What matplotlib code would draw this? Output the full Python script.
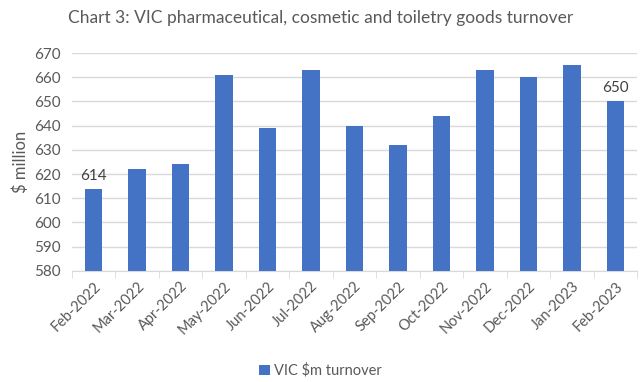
import numpy as np
import matplotlib.pyplot as plt

# Datos del gráfico
meses = ["Feb-2022", "Mar-2022", "Apr-2022", "May-2022", "Jun-2022", "Jul-2022",
         "Aug-2022", "Sep-2022", "Oct-2022", "Nov-2022", "Dec-2022", "Jan-2023", "Feb-2023"]
turnover = [614, 622, 624, 661, 639, 663, 640, 632, 644, 663, 660, 665, 650]

gris = "#595959"
plt.rcParams['font.family'] = ['Lato', 'DejaVu Sans']

fig = plt.figure(figsize=(6.41, 3.82), dpi=100)
ax = fig.add_axes([0.112, 0.291, 0.882, 0.570])

x = np.arange(len(meses))
ax.bar(x, turnover, width=0.4, color="#4472C4", label="VIC $m turnover", zorder=3)

# etiquetas del primero y último
for i in (0, len(meses) - 1):
    ax.text(x[i], turnover[i] + 2.5, str(turnover[i]), ha="center", va="bottom",
            fontsize=11, color="#404040")

ax.set_ylim(580, 670)
ax.set_yticks(np.arange(580, 671, 10))
ax.set_xlim(-0.5, len(meses) - 0.5)
ax.set_xticks(x)
ax.set_xticklabels(meses, rotation=45, ha="right", rotation_mode="anchor")
ax.set_xticks(np.arange(-0.5, len(meses), 1), minor=True)
ax.tick_params(axis="x", which="major", length=0, pad=6, labelsize=10.5, colors=gris)
ax.tick_params(axis="x", which="minor", length=5, color="#d9d9d9")
ax.tick_params(axis="y", length=0, labelsize=11, colors=gris, pad=8)

ax.grid(axis="y", color="#d9d9d9", linewidth=1, zorder=0)
for s in ("top", "right", "left"):
    ax.spines[s].set_visible(False)
ax.spines["bottom"].set_color("#d9d9d9")

ax.set_ylabel("$ million", fontsize=12, color=gris, labelpad=4)
fig.text(0.5, 0.953, "Chart 3: VIC pharmaceutical, cosmetic and toiletry goods turnover",
         ha="center", va="center", fontsize=12.5, color=gris)

fig.legend(loc="center", bbox_to_anchor=(0.5, 0.03), frameon=False, fontsize=10.5,
           handlelength=0.7, handleheight=0.7, handletextpad=0.3, labelcolor=gris)

fig.savefig("out.png", dpi=100)
